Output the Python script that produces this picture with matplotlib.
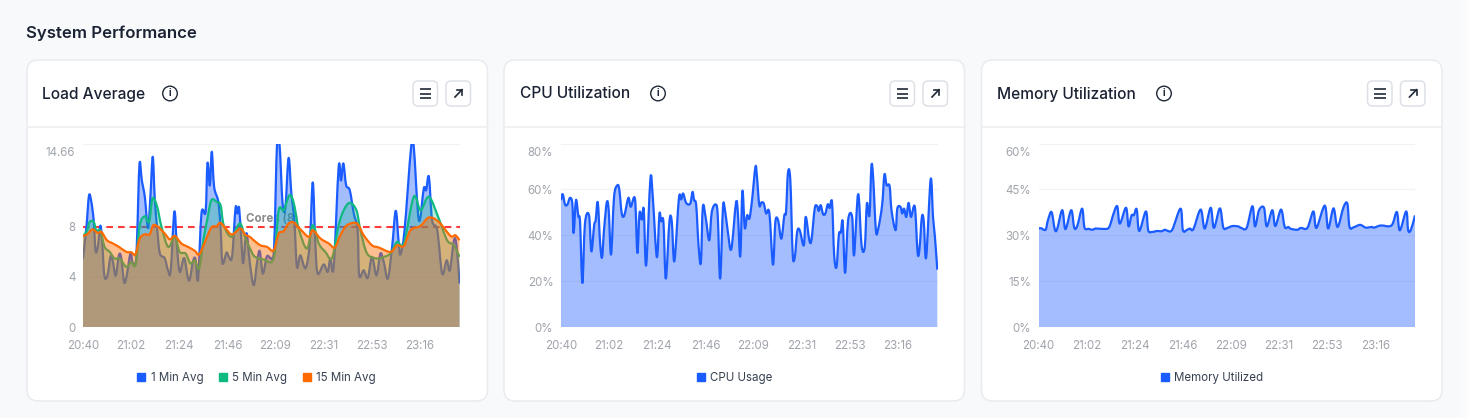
"""System Performance dashboard row: load, CPU and memory cards."""

import matplotlib
matplotlib.use("Agg")
import matplotlib.pyplot as plt
import numpy as np
from matplotlib.lines import Line2D
from matplotlib.patches import Circle, FancyBboxPatch, PathPatch
from matplotlib.path import Path
from matplotlib.transforms import ScaledTranslation

plt.rcParams["font.family"] = ["Inter", "Noto Sans", "DejaVu Sans"]

BLUE = "#1A5CFF"
GREEN = "#10B981"
ORANGE = "#FF6B00"
TICK_GREY = "#A0A4AB"
INK = "#1B2233"

# minutes since 20:40
tick_minutes = [0, 22.5, 45, 67.5, 90, 112.5, 135, 157.5]
tick_labels = ["20:40", "21:02", "21:24", "21:46", "22:09", "22:31", "22:53", "23:16"]

load_1_t = [0, 1.6, 2.8, 3.9, 5, 5.9, 7, 8.1, 9, 10, 11.4, 12.9, 14, 15.3, 16.8, 17.9, 19.2, 20.3, 22.2, 23.1,
            24.6, 25.3, 26.4, 27.5, 28.9, 30.4, 31.5, 32.6, 33.5, 34.6, 35.9, 38.2, 39.8, 41, 42.7, 43.8, 45.2,
            47.3, 49.5, 51.5, 52.6, 53.8, 55.4, 57.3, 58.2, 59.3, 60.2, 61.3, 63.2, 64.3, 65.2, 67.1, 68.2, 69.7,
            71.3, 72.1, 73, 74.1, 74.9, 76.4, 78, 79.8, 81.3, 82.6, 84.1, 86, 88.3, 89.4, 90.7, 91.9, 93.3, 94.6,
            96.1, 97.4, 98.8, 100, 101.6, 104, 106, 107.4, 108.6, 109.7, 112.5, 114.4, 115.6, 117.2, 119.5, 120.6,
            121.7, 123, 124.7, 126.6, 128.4, 129.1, 131.2, 133.1, 135.1, 137.2, 139, 140.6, 142.5, 144.5, 146.2,
            147.6, 148.4, 150.3, 153.4, 154.6, 157, 159.3, 160.4, 161.7, 163.2, 165.6, 167.9, 170, 171.5, 173.4,
            174.6, 176]
load_1 = [5.47, 8, 10.5, 10, 8.5, 6.05, 6.5, 8.1, 6.7, 4.1, 4.1, 5.65, 5.2, 4.1, 5.75, 5.5, 3.6, 4, 5.9, 5.2,
          5.1, 7.2, 13, 11.7, 10.4, 7.9, 10.4, 13.6, 10.4, 8, 5.9, 5.5, 4.5, 4.5, 9.2, 6.7, 4.4,
          5.5, 3.7, 5.3, 5.4, 3.8, 9.1, 9.2, 13.1, 11.3, 14, 11.2, 10.05, 8, 5.1, 5.95, 5.6, 5.65,
          9.5, 9.07, 9.5, 6.7, 5.1, 7.5, 5.1, 3.33, 5.07, 6.08, 4.27, 5.65, 5.47, 6.67, 14.6, 14.5, 9.87, 9.55,
          13.5, 10.67, 8.5, 4.8, 5.73, 4.7, 6.67, 11.55, 6.67, 4.27, 5, 4.4, 5.47, 4.8, 12.75, 11.7,
          13.07, 11.33, 10.93, 9.07, 7.73, 4.13, 4.53, 3.92, 5.6, 4.13, 5.87, 5.2, 3.87, 6.4, 9.28,
          6.67, 5.8, 7.73, 14.4, 14.45, 8.53, 11.07, 10.93, 12, 8.53, 7.73, 4.27, 5.33, 4.53, 6.93,
          6.53, 3.47]

load_5_t = [0, 1.9, 3.1, 5, 6.2, 8.1, 10.1, 12.5, 14.8, 17.2, 20.3, 22.6, 24.6, 26.5, 28.9, 30.9, 32.5, 34.6, 36.7,
            39.8, 42.9, 45.2, 48, 50.2, 52.3, 54.3, 56.5, 58, 60, 62.4, 64.3, 65.8, 69.4, 73.3, 75.7, 78.8, 80.5,
            84.4, 89.1, 91.5, 93.8, 96.5, 98.5, 100.8, 104.7, 107.4, 110.2, 113.3, 116.4, 119.5, 121.9, 124.7,
            127.8, 129.7, 132.8, 137.5, 140.6, 143.7, 146.8, 150, 154.6, 157.8, 161.7, 166.3, 170.2, 173.4, 176]
load_5 = [7.25, 7.7, 8.4, 8.4, 7.7, 7.7, 6.4, 6, 5.47, 5.47, 4.8, 5.2, 5, 8.1, 8.85, 8.4, 10.27, 9.65, 8,
          6.4, 7.2, 6, 5.87, 5.07, 5.33, 4.7, 7.2, 8.5, 10.13, 10, 9.73, 8.13, 7.2, 8.27, 7.2, 6, 5.6,
          5.4, 5.47, 9.33, 9.33, 10.53, 9.92, 7.87, 6.27, 8.13, 6.67, 6, 5.52, 8.13, 9.33, 9.92,
          9.33, 7.73, 5.87, 5.47, 5.6, 5.87, 6.8, 6.67, 10.4, 9.33, 10.4, 8.67, 6.93, 6.53, 5.6]

load_15_t = [0, 1.9, 4.4, 7, 8.6, 11.2, 14, 16.8, 20.3, 22.6, 24.5, 26.5, 28.9, 31.2, 32.8, 35.1, 38.2, 40.6, 42.9,
             46, 49.1, 52.3, 54.3, 57, 60, 62.4, 64.3, 67.1, 69.7, 73.6, 75.7, 78, 79.8, 82.9, 86, 89.1, 91.5, 93.8,
             96.1, 98.5, 101.6, 105.5, 107.4, 111, 114.9, 117.7, 120.3, 123.4, 128.1, 131.2, 135.1, 138.3, 143.7,
             146.8, 150, 153.1, 157.8, 161.7, 166.3, 171.8, 174.1, 176]
load_15 = [7.3, 7.4, 7.8, 7.5, 7.6, 6.93, 6.67, 6.4, 6, 5.97, 5.8, 7.07, 7.4, 7.4, 8.13, 8, 7.47, 7, 7.28,
           6.67, 6.4, 6.08, 5.8, 6.8, 7.95, 8.05, 8.32, 7.79, 7.39, 7.87, 7.39, 7.2, 6.93, 6.53, 6.4, 6.13, 7.47, 7.65,
           8.27, 8.35, 7.81, 7.2, 7.73, 7.07, 6.67, 6.35, 7.33, 8.13, 8.27, 7.33, 6.53, 6.35, 6,
           6.53, 6.48, 7.73, 8.08, 8.75, 8.4, 7.28, 7.33, 6.93]

cpu_t = [0, 0.8, 1.9, 3, 4.2, 5.3, 5.9, 7, 8.1, 8.9, 10, 11.2, 13.1, 14.2, 15.5, 16.2, 17.2, 18.3, 19.2, 20.1, 21.4,
         22.3, 23.4, 24.8, 26.4, 27.3, 28.4, 29.6, 31.5, 32.6, 34.6, 35.7, 36.7, 37.8, 38.7, 39.8, 41.8, 42.9, 44.8,
         46, 46.8, 47.9, 49, 50.7, 51.8, 53, 55.1, 56.2, 57.1, 58.5, 60.4, 61.5, 62.2, 63.2, 64.3, 65.4, 66.3, 67.7,
         69.3, 70.5, 72.4, 73.3, 74.4, 75.7, 76.6, 77.9, 79.6, 81.8, 82.7, 83.8, 84.8, 85.9, 87, 88.1, 89.3, 90.9,
         91.6, 92.7, 93.7, 94.8, 95.9, 97.4, 99.1, 100.2, 101.5, 103, 104.4, 105.2, 106.1, 107.2, 108.3, 109.3, 110.4,
         111.6, 113.5, 114.4, 116.1, 117.1, 118.6, 119.7, 120.5, 121.4, 122.5, 123.6, 124.7, 125.6, 126.7, 127.7,
         128.8, 129.9, 130.8, 131.7, 132.8, 134.2, 136.1, 137, 138.9, 140.5, 142, 143, 144.2, 145.1, 145.9, 147.2,
         148.3, 150.1, 151.2, 152.2, 153.6, 154.5, 156.4, 157.2, 158.7, 159.5, 160.4, 161.4, 162.5, 163.6, 165.4,
         166.7, 167.6, 168.7, 169.6, 170.7, 172.8, 173.9, 174.8, 175.9]
cpu = [55.3, 57.9, 53.4, 53.4, 56.3, 53.8, 41, 55.3, 48.3, 45.8, 19.2, 45.1, 48.7, 33, 44.4, 46.5, 54.3, 36.4, 30.3, 42.2, 54.3,
       50.9, 31.6, 56.7, 61.8, 59.6, 49.5, 48.7, 56.3, 52.4, 55.7, 32.3, 49.7, 46.8, 51.2, 26.9, 64.7, 56.7, 30.5,
       49.2, 46.1, 45.7, 21.1, 46.1, 45.8, 28.7, 56, 55.6, 58.2, 54.1, 53.8, 58.9, 55.3, 53.1, 35.6, 28.1, 52.4, 47.3,
       37.8, 50.2, 53.4, 48, 21.1, 51.9, 51.3, 42.2, 33.9, 54.1, 49.5, 30.8, 59.3, 43.2, 48.7, 47.3, 55.3, 69.8,
       65.5, 53.1, 54.3, 53.8, 49.5, 49.7, 27.2, 45.8, 46.5, 38.5, 48.7, 50.2, 67.3, 64, 32, 30.5, 41.5,
       42.2, 35.6, 48, 37.8, 38.1, 51.6, 52.8, 50.6, 53.1, 49.2, 49.5, 53.5, 51.9, 54.3, 31.3,
       26.2, 40.3, 41.2, 45.8, 23.6, 46.5, 48, 31.3, 57.9, 35.6, 34.9, 53.8, 48.7, 70.1, 65.5, 42.2,
       42.9, 53.1, 66.5, 61.8, 61.5, 50.9, 42.2, 51.6, 52.4, 49.5, 51.6, 48, 54.1, 48, 52.4,
       32.4, 34.2, 48, 45.8, 30.3, 64.4, 48, 39.3, 25]

mem_t = [0, 1.2, 3.3, 4.4, 6.1, 7.6, 8.7, 11.1, 12.6, 15.3, 16.7, 18.1, 20.4, 21.5, 23.5, 25.1, 26.7, 29, 32.4, 33.7,
         34.9, 36.8, 38, 40.9, 42.1, 43.5, 44.6, 45.9, 47.1, 50.2, 51.3, 53.2, 55.5, 57.4, 59.1, 60.2, 62.5, 66.4,
         67.5, 69.5, 70.8, 72.4, 75.8, 77.7, 80.5, 82, 84.8, 86.4, 88.3, 90.6, 93.3, 94.8, 97.3, 100, 101.2, 103.1,
         105.4, 106.7, 109.3, 110.7, 113.4, 115.1, 116.8, 117.9, 121, 122.6, 125.7, 128.5, 129.9, 133.8, 135.4,
         137.9, 139.8, 142.6, 144.4, 145.4, 147.6, 150.4, 153, 155.7, 156.9, 160, 165, 167.5, 168.9, 171.9, 172.8,
         174.1, 176]
mem = [32.2, 32.3, 31.8, 34.9, 37.6, 32, 32, 38.2, 32, 38.2, 32.5, 33, 38.7, 32.5, 32.1, 31.8, 32.2, 32.1, 32.2, 33.8,
       36.7, 39.5, 33.8, 39, 32.9, 36.5, 36.6, 38.5, 31.4, 37.8, 31.6, 31.1, 31.4, 31.3, 31.8, 31.5, 31.8, 38.7,
       31.6, 31.8, 32.2, 32, 38.4, 32.2, 39, 32.4, 38.8, 32.5, 32.4, 33, 32.9, 32.4, 32.4, 39.5, 32.9, 38.2,
       39, 32.9, 38.2, 33, 38.4, 32.7, 32.7, 32.1, 31.8, 32.4, 32.4, 37.8, 32.4, 39.7, 32.2,
       38.8, 32.7, 39.2, 40.3, 32.7, 32.7, 33.4, 32.5, 32.7, 32.5, 33.2, 33.2, 37.6, 31.6, 37.8, 31.6,
       31.8, 36.5]

load_ticks = [0, 4, 8, 14.66]
load_tick_labels = ["0", "4", "8", "14.66"]
cpu_ticks = [0, 20, 40, 60, 80]
cpu_tick_labels = ["0%", "20%", "40%", "60%", "80%"]
mem_ticks = [0, 15, 30, 45, 60]
mem_tick_labels = ["0%", "15%", "30%", "45%", "60%"]
cores = 8

W, H = 1468, 418
fig = plt.figure(figsize=(W / 100, H / 100), dpi=100, facecolor="#F8F9FB")

# page layer in pixel coordinates for cards and icons
bg = fig.add_axes([0, 0, 1, 1])

# page fades lighter towards the right edge
fade = np.ones((1, 16, 4))
fade[..., 3] = np.linspace(0, 0.55, 16)
bg.imshow(fade, extent=(1452, W, H, 0), aspect="auto", zorder=0)

bg.set_xlim(0, W)
bg.set_ylim(H, 0)
bg.axis("off")
bg.text(25.5, 33, "System Performance", fontsize=12.1, fontweight="semibold", color=INK, va="center")


def draw_card(x0, title, info_x):
    bg.add_patch(FancyBboxPatch((x0, 60), 460.5, 341, boxstyle="round,pad=0,rounding_size=11",
                                fc="white", ec="#E9EBEF", lw=1.1, zorder=1))
    bg.plot([x0, x0 + 460.5], [127, 127], color="#EDEEF1", lw=1.1, zorder=1.1)
    bg.text(x0 + 15.5, 94, title, fontsize=11.15, fontweight="medium", color=INK, va="center", zorder=2)

    # info icon
    bg.add_patch(Circle((info_x, 93.5), 7.3, fc="white", ec="#1F2937", lw=1.0, zorder=2))
    bg.text(info_x, 93.5, "i", fontsize=7, fontweight="bold", color="#1F2937", ha="center", va="center", zorder=3)

    # menu and expand buttons
    for bx in (x0 + 386, x0 + 419):
        bg.add_patch(FancyBboxPatch((bx, 81), 24.5, 25, boxstyle="round,pad=0,rounding_size=5",
                                    fc="white", ec="#DDE0E5", lw=1.1, zorder=2))
    for y in (89, 93.5, 98):
        bg.plot([x0 + 392.5, x0 + 404], [y, y], color="#1F2937", lw=1.2, solid_capstyle="butt", zorder=3)
    bg.plot([x0 + 428, x0 + 435], [97, 89.7], color="#1F2937", lw=1.2, zorder=3)
    bg.plot([x0 + 429.5, x0 + 435, x0 + 435], [89.7, 89.7, 95], color="#1F2937", lw=1.2, zorder=3)


def make_axes(x0, ticks, labels, top):
    ax = fig.add_axes([x0 / W, 1 - 327 / H, 376.5 / W, 183.5 / H])
    ax.set_xlim(0, 176)
    ax.set_ylim(0, top)
    ax.patch.set_alpha(0)
    for side in ax.spines.values():
        side.set_visible(False)
    ax.set_xticks(tick_minutes, tick_labels)
    ax.set_yticks(ticks, labels)
    ax.tick_params(axis="both", length=0, labelsize=8.3, labelcolor=TICK_GREY)
    ax.tick_params(axis="x", pad=9.5)
    ax.tick_params(axis="y", pad=5.5)
    ax.grid(axis="y", color="#F1F2F4", lw=0.9)
    ax.set_axisbelow(True)
    # top label sits inside the plot height, as in the dashboard
    top_label = ax.get_yticklabels()[-1]
    top_label.set_transform(top_label.get_transform() + ScaledTranslation(0, -6.1 / 72, fig.dpi_scale_trans))
    return ax


def smooth_curve(t, v):
    # catmull-rom segments so the line bends like the dashboard's smooth curve
    verts = [(t[0], v[0])]
    codes = [Path.MOVETO]
    for i in range(len(t) - 1):
        p0 = i - 1 if i > 0 else i
        p3 = i + 2 if i + 2 < len(t) else i + 1
        c1 = (t[i] + (t[i + 1] - t[p0]) / 6, v[i] + (v[i + 1] - v[p0]) / 6)
        c2 = (t[i + 1] - (t[p3] - t[i]) / 6, v[i + 1] - (v[p3] - v[i]) / 6)
        verts += [c1, c2, (t[i + 1], v[i + 1])]
        codes += [Path.CURVE4] * 3
    return verts, codes


def draw_area(ax, t, v, color, z, alpha=0.4):
    verts, codes = smooth_curve(t, v)
    area = Path(verts + [(t[-1], 0), (t[0], 0), (t[0], 0)], codes + [Path.LINETO, Path.LINETO, Path.CLOSEPOLY])
    ax.add_patch(PathPatch(area, fc=color, ec="none", alpha=alpha, zorder=z))
    ax.add_patch(PathPatch(Path(verts, codes), fc="none", ec=color, lw=1.6, zorder=z + 0.1, joinstyle="round"))


def add_legend(ax, x_center, names, colors):
    handles = [Line2D([], [], ls="none", marker="s", ms=5.6, color=c) for c in colors]
    ax.legend(handles, names, loc="center", bbox_to_anchor=(x_center, -0.277), ncol=len(names), frameon=False,
              fontsize=8.3, labelcolor="#374151", handletextpad=0.1, columnspacing=1.0, handlelength=1.4)


draw_card(27, "Load Average", 170)
draw_card(504, "CPU Utilization", 658)
draw_card(981.5, "Memory Utilization", 1164)

legend_x = (227.5 - 56) / 376.5

ax_load = make_axes(83, load_ticks, load_tick_labels, 14.66)
ax_load.axhline(cores, color="#FF3B3B", lw=1.5, ls=(0, (3.2, 2.4)), zorder=1.5)
ax_load.text(76, cores + 0.35, f"Cores ({cores})", fontsize=8.3, fontweight="bold", color="#8B8B8B", zorder=1.6)
draw_area(ax_load, load_1_t, load_1, BLUE, 2)
draw_area(ax_load, load_5_t, load_5, GREEN, 3, alpha=0.3)
draw_area(ax_load, load_15_t, load_15, ORANGE, 4, alpha=0.43)
add_legend(ax_load, legend_x, ["1 Min Avg", "5 Min Avg", "15 Min Avg"], [BLUE, GREEN, ORANGE])

ax_cpu = make_axes(561, cpu_ticks, cpu_tick_labels, 80)
draw_area(ax_cpu, cpu_t, cpu, BLUE, 2)
add_legend(ax_cpu, legend_x, ["CPU Usage"], [BLUE])

ax_mem = make_axes(1038.5, mem_ticks, mem_tick_labels, 60)
draw_area(ax_mem, mem_t, mem, BLUE, 2)
add_legend(ax_mem, legend_x, ["Memory Utilized"], [BLUE])

fig.savefig("out.png", dpi=100)
